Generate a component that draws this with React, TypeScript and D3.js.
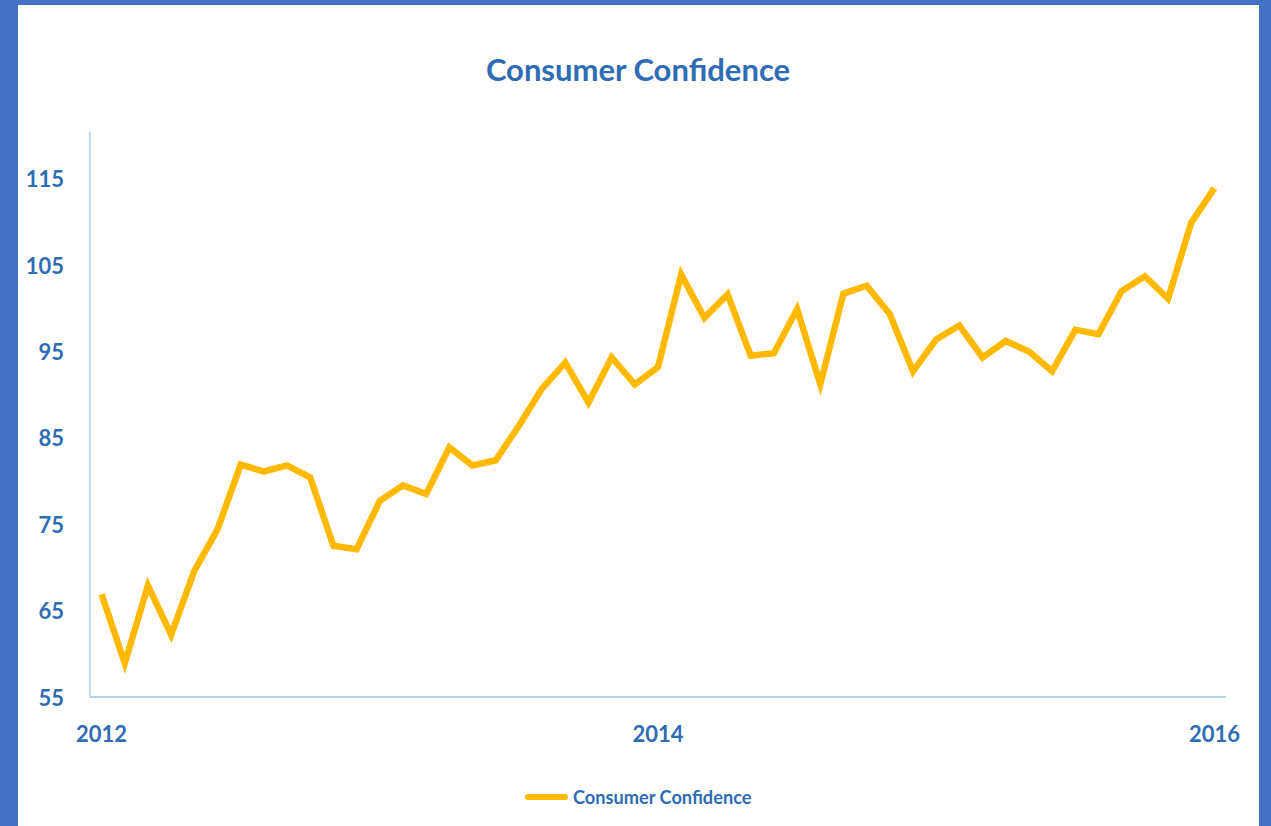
import React from "react";
import * as d3 from "d3";

const months: string[] = [];
for (let y = 2012; y <= 2016; y++) {
  for (let m = 1; m <= 12; m++) {
    if (y === 2016 && m > 1) break;
    months.push(`${y}-${String(m).padStart(2, "0")}`);
  }
}

const confidence = [
  66.9, 58.9, 67.9, 62.2, 69.6, 74.4, 81.9, 81.1, 81.8, 80.4,
  72.5, 72.1, 77.7, 79.5, 78.5, 83.9, 81.8, 82.4, 86.4, 90.7,
  93.7, 89.1, 94.3, 91.2, 93.2, 103.9, 98.9, 101.6, 94.5, 94.8,
  99.9, 91.2, 101.7, 102.6, 99.3, 92.7, 96.4, 98.0, 94.3, 96.2,
  95.0, 92.7, 97.5, 97.0, 102.0, 103.7, 101.1, 109.9, 113.9,
];

const yTicks = [55, 65, 75, 85, 95, 105, 115];
const xTickLabels = [
  { month: "2012-01", label: "2012" },
  { month: "2014-01", label: "2014" },
  { month: "2016-01", label: "2016" },
];

const seriesName = "Consumer Confidence";
const title = "Consumer Confidence";

const W = 1271;
const H = 826;
const FONT = "Lato, 'Open Sans', sans-serif";
const TEXT_BLUE = "#2E6CB3";
const LINE_COLOR = "#FFB900";
const AXIS_COLOR = "#9DC3E6";

export default function App() {
  const left = 90;
  const right = 1226;
  const top = 132;
  const bottom = 697;

  const x = d3.scaleBand<string>().domain(months).range([left, right]).padding(0);
  const cx = (m: string) => (x(m) as number) + x.bandwidth() / 2;
  const y = d3.scaleLinear().domain([55, 120.4]).range([bottom, top]);

  const data = months.map((m, i) => ({ m, v: confidence[i] }));
  const line = d3
    .line<{ m: string; v: number }>()
    .x((d) => cx(d.m))
    .y((d) => y(d.v));

  return (
    <div style={{ position: "fixed", left: 0, top: 0, width: W, height: H }}>
      <svg width={W} height={H} style={{ display: "block" }}>
        <rect x={0} y={0} width={W} height={H} fill="#4472C4" />
        <rect x={18} y={5} width={1241} height={H - 5} fill="#FFFFFF" />

        <text
          x={638}
          y={69}
          textAnchor="middle"
          dominantBaseline="central"
          fontFamily={FONT}
          fontWeight="bold"
          fontSize={31}
          fill={TEXT_BLUE}
        >
          {title}
        </text>

        {/* axes */}
        <line x1={left} x2={left} y1={top} y2={bottom} stroke={AXIS_COLOR} strokeWidth={1.2} />
        <line x1={left} x2={right} y1={bottom} y2={bottom} stroke={AXIS_COLOR} strokeWidth={1.5} />

        {yTicks.map((t) => (
          <text
            key={t}
            x={64}
            y={y(t)}
            textAnchor="end"
            dominantBaseline="central"
            fontFamily={FONT}
            fontWeight="bold"
            fontSize={22}
            fill={TEXT_BLUE}
          >
            {t}
          </text>
        ))}

        {xTickLabels.map((t) => (
          <text
            key={t.label}
            x={cx(t.month)}
            y={733}
            textAnchor="middle"
            dominantBaseline="central"
            fontFamily={FONT}
            fontWeight="bold"
            fontSize={22}
            fill={TEXT_BLUE}
          >
            {t.label}
          </text>
        ))}

        <path
          d={line(data) || ""}
          fill="none"
          stroke={LINE_COLOR}
          strokeWidth={6.5}
          strokeLinejoin="miter"
          strokeLinecap="butt"
        />

        {/* legend */}
        <line x1={528} x2={565} y1={797} y2={797} stroke={LINE_COLOR} strokeWidth={6} strokeLinecap="round" />
        <text
          x={573}
          y={797}
          dominantBaseline="central"
          fontFamily={FONT}
          fontWeight="bold"
          fontSize={18.2}
          fill={TEXT_BLUE}
        >
          {seriesName}
        </text>
      </svg>
    </div>
  );
}
